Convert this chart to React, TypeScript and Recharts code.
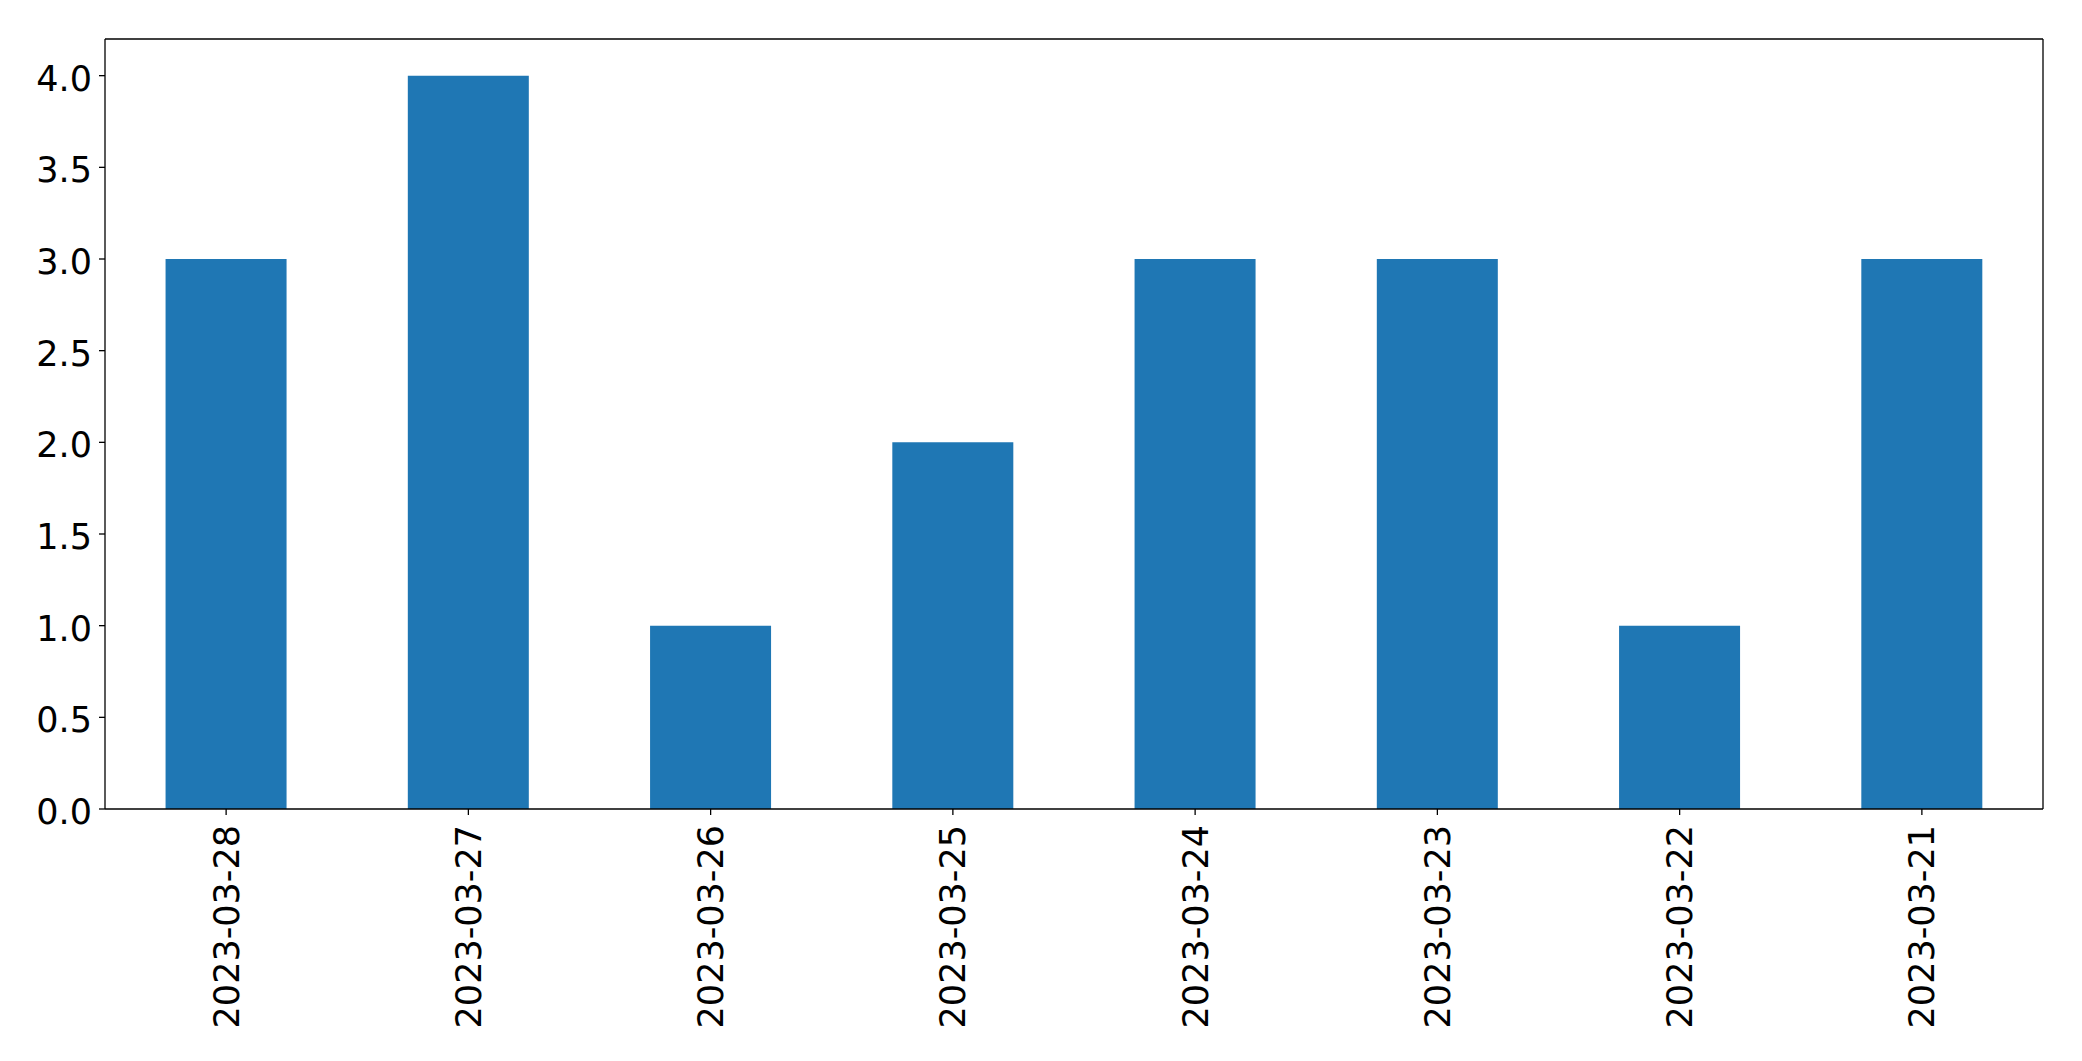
import React from "react";
import { BarChart, Bar, XAxis, YAxis } from "recharts";

const categories = ["2023-03-28", "2023-03-27", "2023-03-26", "2023-03-25", "2023-03-24", "2023-03-23", "2023-03-22", "2023-03-21"];
const counts = [3, 4, 1, 2, 3, 3, 1, 3];
const yTicks = [0, 0.5, 1, 1.5, 2, 2.5, 3, 3.5, 4];

const data = categories.map((c, i) => ({ date: c, count: counts[i] }));

const FONT = "'DejaVu Sans', sans-serif";
const FS = 35;

const XTick = (props: any) => {
  const { x, payload } = props;
  return (
    <g transform={`translate(${x},${825}) rotate(-90)`}>
      <text x={0} y={0} dy={12.5} textAnchor="end" fontFamily={FONT} fontSize={FS} fill="#000">
        {payload.value}
      </text>
    </g>
  );
};

const YTick = (props: any) => {
  const { x, y, payload } = props;
  return (
    <text x={x} y={y} dy={15} textAnchor="end" fontFamily={FONT} fontSize={FS} fill="#000">
      {Number(payload.value).toFixed(1)}
    </text>
  );
};

export default function App() {
  return (
    <div style={{ position: "absolute", left: 0, top: 0, width: 2082, height: 1061, background: "#fff" }}>
      <BarChart
        width={2082}
        height={1061}
        data={data}
        margin={{ top: 38, right: 38, left: 0, bottom: 0 }}
        barCategoryGap="25%"
      >
        <XAxis
          dataKey="date"
          xAxisId="bottom"
          height={252}
          interval={0}
          tickSize={6}
          tickLine={{ stroke: "#000", strokeWidth: 1.3 }}
          axisLine={{ stroke: "#000", strokeWidth: 1.3 }}
          tick={<XTick />}
        />
        <XAxis dataKey="date" xAxisId="top" orientation="top" height={1} tick={false} tickLine={false} axisLine={{ stroke: "#000", strokeWidth: 1.3 }} />
        <YAxis
          yAxisId="left"
          width={105}
          domain={[0, 4.2]}
          ticks={yTicks}
          interval={0}
          tickSize={6}
          tickMargin={7}
          tickLine={{ stroke: "#000", strokeWidth: 1.3 }}
          axisLine={{ stroke: "#000", strokeWidth: 1.3 }}
          tick={<YTick />}
          allowDataOverflow
        />
        <YAxis yAxisId="right" orientation="right" width={1} domain={[0, 4.2]} tick={false} tickLine={false} axisLine={{ stroke: "#000", strokeWidth: 1.3 }} />
        <Bar dataKey="count" xAxisId="bottom" yAxisId="left" fill="#1f77b4" isAnimationActive={false} />
      </BarChart>
    </div>
  );
}
